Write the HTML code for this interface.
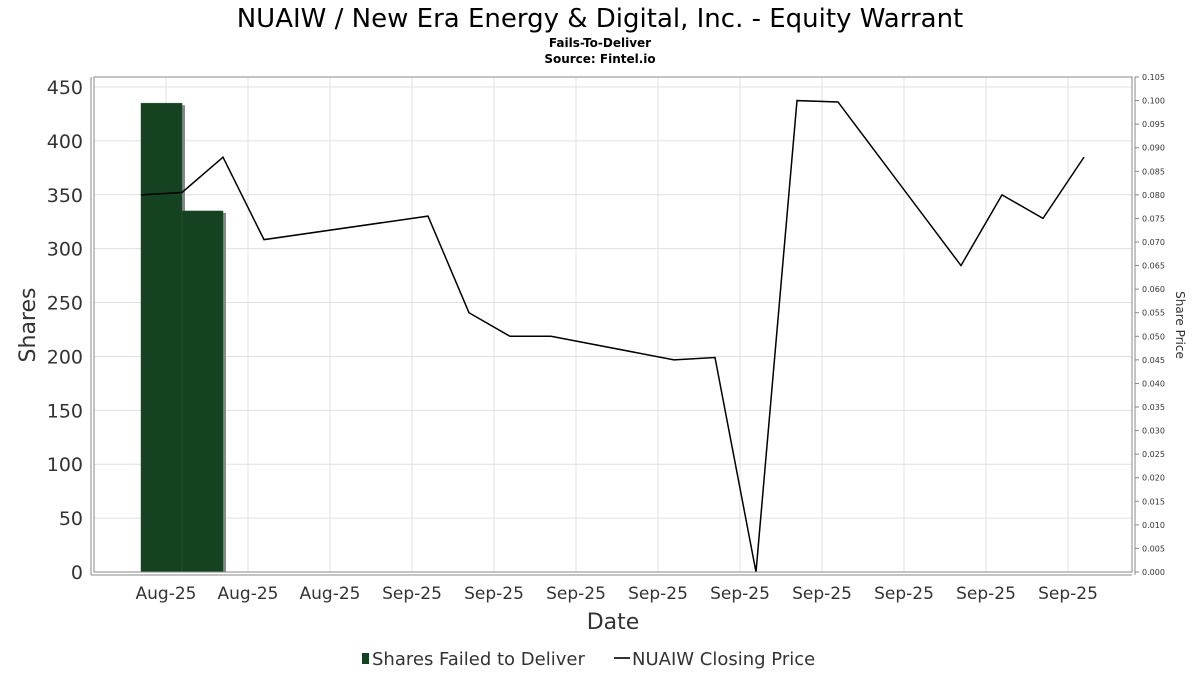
<!DOCTYPE html>
<html><head><meta charset="utf-8"><style>
html,body{margin:0;padding:0;background:#fff;}
svg text{font-family:"DejaVu Sans","Liberation Sans",sans-serif;}
</style></head><body>
<svg id="chart" width="1200" height="675" xmlns="http://www.w3.org/2000/svg">
<text x="600" y="27" text-anchor="middle" font-size="26" fill="#000">NUAIW / New Era Energy &amp; Digital, Inc. - Equity Warrant</text>
<text x="600" y="47" text-anchor="middle" font-size="12" font-weight="bold">Fails-To-Deliver</text>
<text x="600" y="63" text-anchor="middle" font-size="12" font-weight="bold">Source: Fintel.io</text>
<g id="grid"></g>
<g id="bars"></g>
<g id="line"></g>
<rect x="94" y="77" width="1038" height="495" fill="none" stroke="#888" stroke-width="1"/>
<line x1="91" y1="77" x2="91" y2="575" stroke="#888"/>
<line x1="91" y1="575" x2="1132" y2="575" stroke="#888"/>
<line x1="1135" y1="77" x2="1135" y2="575" stroke="#888"/>
<g id="axes"></g>
<text x="35" y="325" text-anchor="middle" font-size="22" fill="#333" transform="rotate(-90 35 325)">Shares</text>
<text x="1176" y="325" text-anchor="middle" font-size="12" fill="#333" transform="rotate(90 1176 325)">Share Price</text>
<text x="613" y="629" text-anchor="middle" font-size="22" fill="#333">Date</text>
<g>
<rect x="362" y="653" width="7" height="11" fill="#154221"/>
<text x="372" y="665" font-size="18" fill="#333">Shares Failed to Deliver</text>
<line x1="614" y1="658" x2="630" y2="658" stroke="#333" stroke-width="2"/>
<text x="632" y="665" font-size="18" fill="#333">NUAIW Closing Price</text>
</g>
</svg>
<script>
const barDays = [0, 1];
const barShares = [435, 335];
const priceDays = [0,1,2,3,7,8,9,10,13,14,15,16,17,20,21,22,23];
const prices = [0.080,0.0805,0.088,0.0705,0.0755,0.055,0.050,0.050,0.045,0.0455,0.000,0.100,0.0997,0.065,0.080,0.075,0.088];
const xTickLabels = ["Aug-25","Aug-25","Aug-25","Sep-25","Sep-25","Sep-25","Sep-25","Sep-25","Sep-25","Sep-25","Sep-25","Sep-25"];
const leftTicks = [0,50,100,150,200,250,300,350,400,450];

const NS="http://www.w3.org/2000/svg";
const x = d => 141 + d*41;
const yL = v => 572 - v*(485/450);
const yR = v => 572 - v*(495/0.105);
function mk(tag, attrs, parent){const e=document.createElementNS(NS,tag);for(const k in attrs)e.setAttribute(k,attrs[k]);parent.appendChild(e);return e;}
const grid=document.getElementById('grid'), axes=document.getElementById('axes'), bars=document.getElementById('bars'), line=document.getElementById('line');

leftTicks.forEach(v=>{
  const g=mk('line',{x1:94,x2:1132,y1:yL(v),y2:yL(v),stroke:'#e0e0e0'},grid);
  
  
  const t=mk('text',{x:83,y:yL(v)+7,'text-anchor':'end','font-size':19,fill:'#333'},axes);
  t.textContent=v;
  
  
});
for(let i=0;i<=21;i++){
  const v=i*0.005;
  const tk=mk('line',{x1:1135,x2:1139,y1:yR(v),y2:yR(v),stroke:'#888'},axes);
  
  
  const t=mk('text',{x:1142,y:yR(v)+3,'font-size':8,fill:'#333'},axes);
  t.textContent=v.toFixed(3);
  
  
}
xTickLabels.forEach((lab,k)=>{
  const px=x(0.61+2*k);
  const g=mk('line',{x1:px,x2:px,y1:77,y2:572,stroke:'#e0e0e0'},grid);
  
  
  const t=mk('text',{x:px,y:599,'text-anchor':'middle','font-size':17,fill:'#333'},axes);
  t.textContent=lab;
  
  
});
barDays.forEach((d,i)=>{
  const x0=x(d), w=x(d+1)-x(d), yt=yL(barShares[i]);
  const s=mk('rect',{x:x0+3,y:yt+2,width:w,height:572-yt-2,fill:'#888'},bars);
  
  
});
barDays.forEach((d,i)=>{
  const x0=x(d), w=x(d+1)-x(d), yt=yL(barShares[i]);
  const r=mk('rect',{x:x0,y:yt,width:w,height:572-yt,fill:'#154221',stroke:'#2a5a38','stroke-width':0.5},bars);
  
  
});
const pts=priceDays.map((d,i)=>x(d)+','+yR(prices[i])).join(' ');
const pl=mk('polyline',{points:pts,fill:'none',stroke:'#000','stroke-width':1.5},line);


</script>
</body></html>
